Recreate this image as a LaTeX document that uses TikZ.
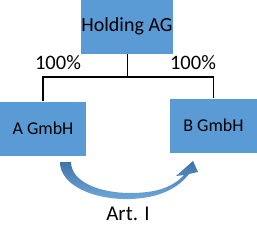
\documentclass[tikz,border=0pt]{standalone}
\usepackage{fontspec}
\setmainfont{Carlito}
\definecolor{boxblue}{HTML}{5B9BD5}
\definecolor{arrdark}{HTML}{3F72A6}
\definecolor{arrlight}{HTML}{6FA8DC}
\begin{document}
\begin{tikzpicture}[x=1pt,y=-1pt,
  company/.style={fill=boxblue,draw=none,minimum width=86pt,minimum height=54pt,inner sep=0pt,
    font=\fontsize{18}{20}\selectfont},
  pct/.style={font=\fontsize{20.5}{22}\selectfont,inner sep=0pt},
  link/.style={draw=black,line width=1.4pt}]
\useasboundingbox (0,0) rectangle (257,228);
\node[company,font=\fontsize{20}{22}\selectfont] (hold) at (127,26.5) {Holding AG};
\node[company] (a) at (43,128.5) {A GmbH};
\node[company,minimum width=87pt] (b) at (213.5,125.5) {B GmbH};
\coordinate (j) at (127.5,77);
\draw[link] (hold.south -| j) -- (j);
\draw[link] (a.north) |- (j) -| (b.north);
\node[pct] (p1) at (58,63) {100\%};
\node[pct] (p2) at (193,63) {100\%};
\node[font=\fontsize{21}{23}\selectfont,inner sep=0pt] (art) at (128,214) {Art. I};
\shade[left color=arrdark,right color=arrlight,shading angle=0]
  (60,162) .. controls (60,186) and (95,200) .. (130,199)
  .. controls (160,198) and (178,188) .. (189,174)
  -- (198,172) -- (193,161) -- (176,176) -- (184,175)
  .. controls (172,188) and (155,193) .. (130,193)
  .. controls (100,193) and (71,182) .. (71,162) -- cycle;
\end{tikzpicture}
\end{document}
